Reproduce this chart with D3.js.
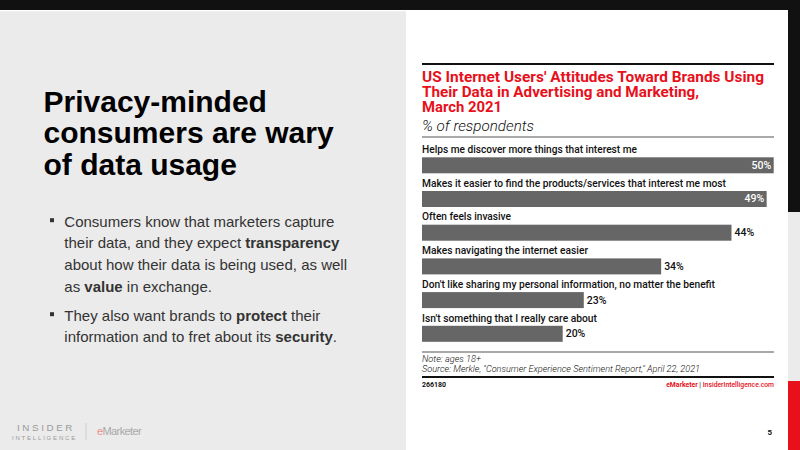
<!DOCTYPE html>
<html><head><meta charset="utf-8">
<script src="https://cdn.jsdelivr.net/npm/d3@7"></script>
<style>html,body{margin:0;padding:0;background:#ebebeb;}svg{display:block;}</style>
</head><body>
<svg id="c" width="800" height="450"></svg>
<script>
const categories = [
  "Helps me discover more things that interest me",
  "Makes it easier to find the products/services that interest me most",
  "Often feels invasive",
  "Makes navigating the internet easier",
  "Don't like sharing my personal information, no matter the benefit",
  "Isn't something that I really care about"
];
const values = [50, 49, 44, 34, 23, 20];
const titleLines = ["US Internet Users' Attitudes Toward Brands Using", "Their Data in Advertising and Marketing,", "March 2021"];
const subtitle = "% of respondents";
const noteLines = ["Note: ages 18+", "Source: Merkle, \"Consumer Experience Sentiment Report,\" April 22, 2021"];
const chartId = "266180";
const headingLines = ["Privacy-minded", "consumers are wary", "of data usage"];
const bullets = [
  [[["Consumers know that marketers capture",0]],[["their data, and they expect ",0],["transparency",1]],[["about how their data is being used, as well",0]],[["as ",0],["value",1],[" in exchange.",0]]],
  [[["They also want brands to ",0],["protect",1],[" their",0]],[["information and to fret about its ",0],["security",1],[".",0]]]
];

const svg = d3.select("#c");
const F = "Roboto, 'Liberation Sans', sans-serif";
const A = "'Liberation Sans', Arial, sans-serif";

// background blocks
svg.append("rect").attr("x",0).attr("y",0).attr("width",800).attr("height",450).attr("fill","#ebebeb");
svg.append("rect").attr("x",406).attr("y",10).attr("width",382).attr("height",440).attr("fill","#ffffff");
svg.append("rect").attr("x",0).attr("y",10).attr("width",406).attr("height",1.2).attr("fill","#ffffff");
svg.append("rect").attr("x",0).attr("y",0).attr("width",800).attr("height",10).attr("fill","#111111");
svg.append("rect").attr("x",788).attr("y",0).attr("width",12).attr("height",212).attr("fill","#111111");
svg.append("rect").attr("x",788).attr("y",381).attr("width",12).attr("height",69).attr("fill","#e8101b");

function fit(sel, w){ sel.attr("textLength", w).attr("lengthAdjust","spacingAndGlyphs"); return sel; }

// left heading
const hd = svg.append("g");
headingLines.forEach((t,i)=>{
  hd.append("text").attr("x",43.5).attr("y",111.5+i*31.7).attr("font-family",A).attr("font-weight","bold")
    .attr("font-size",30).attr("fill","#000").text(t);
});
// bullets
let by = [226.7, 320.7];
bullets.forEach((para,pi)=>{
  svg.append("rect").attr("x",50).attr("y",by[pi]-8.5).attr("width",4).attr("height",4).attr("fill","#333");
  para.forEach((line,li)=>{
    const t = svg.append("text").attr("x",64.3).attr("y",by[pi]+li*21.6).attr("font-family",A)
      .attr("font-size",15).attr("fill","#333");
    line.forEach(([s,b])=>t.append("tspan").attr("font-weight",b?"bold":"normal").text(s));
  });
});
// logo
svg.append("text").attr("x",17).attr("y",430.5).attr("font-family",A).attr("font-size",9.8).attr("letter-spacing",2.6)
  .attr("fill","#9a9a9a").text("INSIDER");
svg.append("text").attr("x",12).attr("y",439.5).attr("font-family",A).attr("font-size",6).attr("letter-spacing",1.8)
  .attr("fill","#9a9a9a").text("INTELLIGENCE");
svg.append("rect").attr("x",85.5).attr("y",423).attr("width",1).attr("height",17).attr("fill","#cfcfcf");
const em = svg.append("text").attr("x",97).attr("y",435).attr("font-family",A).attr("font-size",11).attr("letter-spacing",-0.6);
em.append("tspan").attr("fill","#f08c8c").text("e");
em.append("tspan").attr("fill","#a8a8a8").text("Marketer");

// chart panel
const L = 422, R = 774;
svg.append("rect").attr("x",L).attr("y",63).attr("width",R-L).attr("height",2).attr("fill","#111");
const titleW = [342, 277, 80];
titleLines.forEach((t,i)=>{
  fit(svg.append("text").attr("x",L).attr("y",82+i*15).attr("font-family",F).attr("font-weight","bold")
    .attr("font-size",14).attr("fill","#e8101b").text(t), titleW[i]);
});
fit(svg.append("text").attr("x",L).attr("y",131).attr("font-family",F).attr("font-style","italic").attr("font-weight",300)
  .attr("font-size",15).attr("fill","#111").text(subtitle), 112);
svg.append("rect").attr("x",L).attr("y",136.5).attr("width",R-L).attr("height",1).attr("fill","#555");

const x = d3.scaleLinear().domain([0,50]).range([L, 773.7]);
const y = d3.scaleBand().domain(categories).range([142, 142+6*33.7]).padding(0);
const labelW = [215, 304, 89, 166, 293, 175];
const rows = svg.append("g").selectAll("g").data(categories).join("g")
  .attr("transform", d=>`translate(0,${y(d)})`);
rows.append("text").attr("x",L).attr("y",11).attr("font-family",F).attr("font-weight",500).attr("font-size",10)
  .attr("fill","#111").text(d=>d).each(function(d,i){ fit(d3.select(this), labelW[i]); });
rows.append("rect").attr("x",x(0)).attr("y",15.3).attr("height",16).attr("width",(d,i)=>x(values[i])-x(0))
  .attr("fill","#666666");
rows.append("text").attr("y",26.8).attr("font-family",F).attr("font-weight",500).attr("font-size",10.5)
  .attr("x",(d,i)=> values[i]>=45 ? x(values[i])-2.5 : x(values[i])+3)
  .attr("text-anchor",(d,i)=> values[i]>=45 ? "end" : "start")
  .attr("fill",(d,i)=> values[i]>=45 ? "#fff" : "#111")
  .text((d,i)=>values[i]+"%");

// footer
svg.append("rect").attr("x",L).attr("y",351.5).attr("width",R-L).attr("height",1).attr("fill","#555");
const noteW = [59, 278];
noteLines.forEach((t,i)=>{
  fit(svg.append("text").attr("x",L).attr("y",362+i*10).attr("font-family",F).attr("font-style","italic").attr("font-weight",300)
    .attr("font-size",9).attr("fill","#111").text(t), noteW[i]);
});
svg.append("rect").attr("x",L).attr("y",376).attr("width",R-L).attr("height",2).attr("fill","#111");
svg.append("text").attr("x",L).attr("y",386.5).attr("font-family",F).attr("font-weight","bold").attr("font-size",7)
  .attr("fill","#111").text(chartId);
const ft = svg.append("text").attr("x",R).attr("y",386.5).attr("text-anchor","end").attr("font-family",F)
  .attr("font-weight","bold").attr("font-size",6.8);
ft.append("tspan").attr("fill","#e8101b").text("eMarketer");
ft.append("tspan").attr("fill","#111").attr("font-weight","normal").text(" | ");
ft.append("tspan").attr("fill","#e8101b").attr("font-weight",500).text("InsiderIntelligence.com");
svg.append("text").attr("x",772).attr("y",434.5).attr("text-anchor","end").attr("font-family",F).attr("font-weight","bold")
  .attr("font-size",8).attr("fill","#111").text("5");
</script>
</body></html>
